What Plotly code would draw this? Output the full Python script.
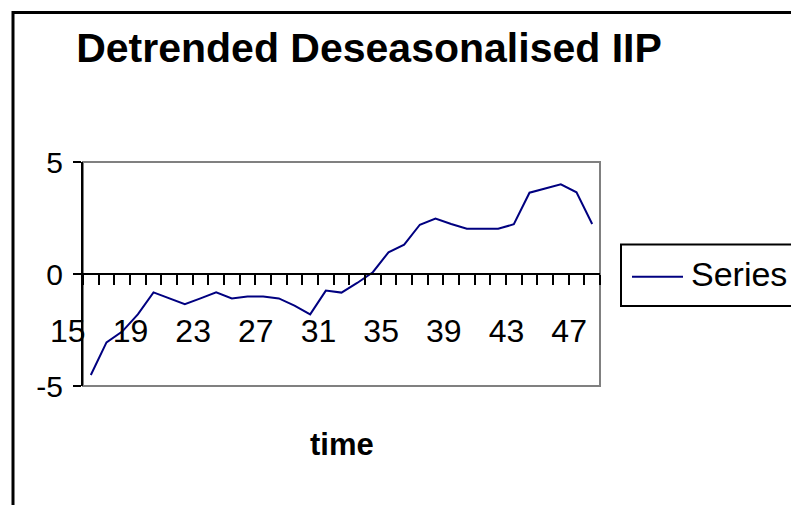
import plotly.graph_objects as go

W, H = 791, 505

# Data
time = list(range(15, 48))
iip = [-4.51, -3.05, -2.57, -1.80, -0.82, -1.09, -1.35, -1.09, -0.82, -1.09,
       -1.01, -1.01, -1.09, -1.41, -1.80, -0.74, -0.83, -0.40, 0.08, 0.97,
       1.31, 2.20, 2.47, 2.23, 2.02, 2.02, 2.02, 2.22, 3.63, 3.82,
       4.00, 3.65, 2.23]
x_labels = [15, 19, 23, 27, 31, 35, 39, 43, 47]
y_ticks = [-5, 0, 5]
title = "Detrended Deseasonalised IIP"
x_title = "time"
series_name = "Series 1"

FONT = "Arial, Liberation Sans, sans-serif"
NAVY = "#000080"

def px(x):
    return x / W

def py(y):
    return 1 - y / H

left, right, top, bottom = 83, 600, 162, 386
zero_y = (top + bottom) / 2

fig = go.Figure()
fig.add_trace(go.Scatter(x=time, y=iip, mode="lines",
                         line=dict(color=NAVY, width=2),
                         name=series_name, showlegend=False))

fig.update_layout(
    width=W, height=H, autosize=False,
    margin=dict(l=0, r=0, t=0, b=0, pad=0),
    paper_bgcolor="white", plot_bgcolor="white",
    font=dict(family=FONT, color="black"),
    title=dict(text="<b>%s</b>" % title, x=px(369), xanchor="center",
               y=py(47.5), yanchor="middle", yref="paper", automargin=False,
               font=dict(size=41, family=FONT, color="black")),
    xaxis=dict(domain=[px(left), px(right)], range=[time[0] - 0.5, time[-1] + 0.5],
               anchor="free", position=py(zero_y), automargin=False,
               showline=True, linecolor="black", linewidth=2,
               showgrid=False, zeroline=False,
               tickmode="array", tickvals=x_labels, ticktext=[str(v) for v in x_labels],
               ticks="", ticklabelshift=-23, ticklabelstandoff=29,
               tickfont=dict(size=32, family=FONT, color="black"),
               minor=dict(tickmode="linear", tick0=time[0] - 0.5, dtick=1,
                          ticks="outside", ticklen=10, tickwidth=2,
                          tickcolor="black", showgrid=False)),
    yaxis=dict(domain=[py(bottom), py(top)], range=[-5, 5], automargin=False,
               anchor="x", showline=True, linecolor="black", linewidth=2,
               showgrid=False, zeroline=False,
               tickmode="array", tickvals=y_ticks, ticktext=[str(v) for v in y_ticks],
               ticks="outside", ticklen=8, tickwidth=2, tickcolor="black",
               ticklabelstandoff=4,
               tickfont=dict(size=30, family=FONT, color="black")),
)

shapes = [
    # outer chart frame (top & left visible)
    dict(type="rect", xref="paper", yref="paper", x0=px(13), x1=1.3,
         y0=-0.3, y1=py(12.5), line=dict(color="black", width=3),
         fillcolor="rgba(0,0,0,0)", layer="below"),
    # plot area border
    dict(type="rect", xref="paper", yref="paper", x0=px(left), x1=px(right),
         y0=py(bottom), y1=py(top), line=dict(color="#808080", width=2),
         fillcolor="rgba(0,0,0,0)", layer="below"),
    # legend box
    dict(type="rect", xref="paper", yref="paper", x0=px(621), x1=1.3,
         y0=py(306), y1=py(244.5), line=dict(color="black", width=2),
         fillcolor="white", layer="above"),
    # legend line sample
    dict(type="line", xref="paper", yref="paper", x0=px(632), x1=px(683),
         y0=py(276.7), y1=py(276.7), line=dict(color=NAVY, width=2), layer="above"),
]
fig.update_layout(shapes=shapes)

fig.add_annotation(text=series_name, xref="paper", yref="paper",
                   x=px(689), y=py(274), xanchor="left", yanchor="middle",
                   showarrow=False, font=dict(size=34, family=FONT, color="black"))
fig.add_annotation(text="<b>%s</b>" % x_title, xref="paper", yref="paper",
                   x=px(342), y=py(444), xanchor="center", yanchor="middle",
                   showarrow=False, font=dict(size=31, family=FONT, color="black"))

fig.write_html("out.html")
